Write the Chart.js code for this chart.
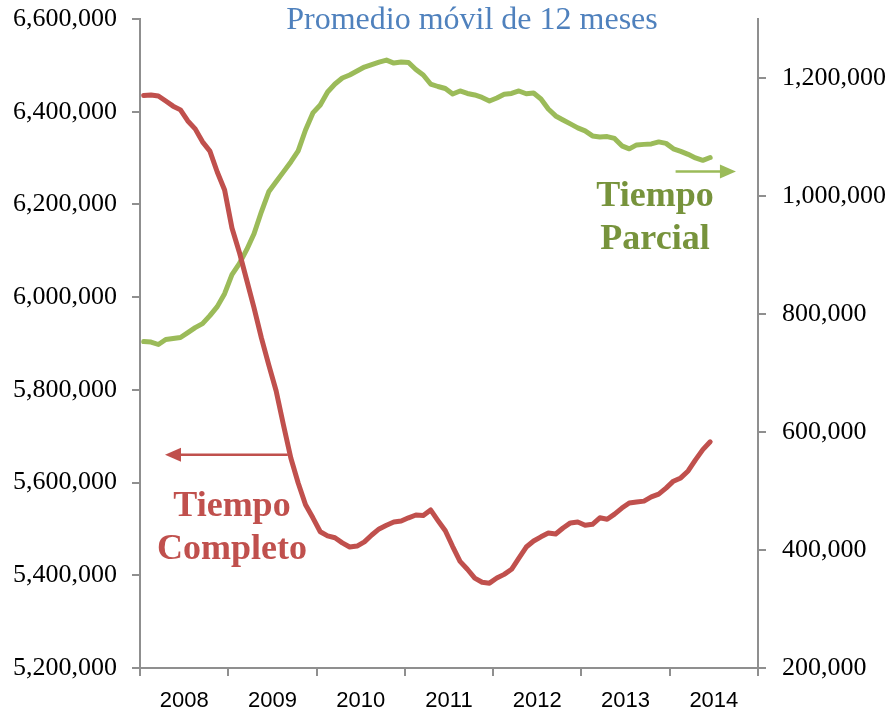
<!DOCTYPE html>
<html>
<head>
<meta charset="utf-8">
<script src="https://cdn.jsdelivr.net/npm/chart.js@4.4.1/dist/chart.umd.min.js"></script>
<style>
  body { margin: 0; background: #fff; }
  #wrap { width: 889px; height: 715px; position: relative; }
</style>
</head>
<body>
<div id="wrap"><canvas id="chart"></canvas></div>
<script>
// monthly 12-month moving averages, Jan 2008 - Jun 2014
const years = ['2008', '2009', '2010', '2011', '2012', '2013', '2014'];
const leftTicks = [5200000, 5400000, 5600000, 5800000, 6000000, 6200000, 6400000, 6600000];
const rightTicks = [200000, 400000, 600000, 800000, 1000000, 1200000];

const tiempoCompleto = [
  6435000, 6436000, 6434000, 6423000, 6412000, 6404000, 6380000, 6363000, 6335000, 6315000,
  6270000, 6231000, 6149000, 6097000, 6037000, 5977000, 5912000, 5854000, 5798000, 5724000,
  5653000, 5599000, 5552000, 5524000, 5494000, 5485000, 5481000, 5470000, 5461000, 5463000,
  5472000, 5487000, 5500000, 5508000, 5515000, 5517000, 5524000, 5530000, 5529000, 5541000,
  5518000, 5496000, 5462000, 5430000, 5413000, 5394000, 5385000, 5383000, 5394000, 5402000,
  5413000, 5437000, 5461000, 5474000, 5483000, 5491000, 5489000, 5502000, 5513000, 5515000,
  5508000, 5510000, 5524000, 5521000, 5532000, 5545000, 5556000, 5558000, 5560000, 5569000,
  5575000, 5588000, 5603000, 5610000, 5625000, 5649000, 5671000, 5688000
];

const tiempoParcial = [
  753300, 752500, 748300, 756700, 758400, 760100, 768500, 776900, 783700, 797300,
  812500, 834500, 866700, 885300, 909000, 936000, 973200, 1007100, 1024000, 1040900,
  1057800, 1076400, 1111900, 1140800, 1154300, 1176300, 1189800, 1200000, 1205100, 1211800,
  1218600, 1222800, 1227000, 1230400, 1225300, 1227000, 1226200, 1214400, 1205100, 1189800,
  1185600, 1182200, 1172900, 1178000, 1173800, 1171200, 1167000, 1161000, 1166100, 1172400,
  1173800, 1178000, 1173300, 1174600, 1164500, 1147500, 1135700, 1128900, 1122200, 1115400,
  1110300, 1101800, 1100100, 1100700, 1097600, 1085000, 1079900, 1086600, 1087500, 1088300,
  1091700, 1089200, 1079900, 1075600, 1070600, 1064600, 1060400, 1065200
];

const axisGray = '#8f8f8f';
const serif = '"Liberation Serif", "Times New Roman", serif';
const sans = '"Liberation Sans", Arial, sans-serif';

const toPoints = arr => arr.map((v, i) => ({ x: i + 0.5, y: v }));
const fmt = v => Math.round(v).toLocaleString('en-US');

// title, arrows and series labels
const notes = {
  id: 'notes',
  afterDraw: (chart) => {
    const { ctx, scales: { x, y, y1 } } = chart;
    ctx.save();

    ctx.font = '32px ' + serif;
    ctx.fillStyle = '#4F81BD';
    ctx.textAlign = 'center';
    ctx.textBaseline = 'alphabetic';
    ctx.fillText('Promedio móvil de 12 meses', 472, 29);

    function arrow(x0, x1, yy, color) {
      const dir = x1 > x0 ? 1 : -1;
      ctx.strokeStyle = color;
      ctx.fillStyle = color;
      ctx.lineWidth = 2.5;
      ctx.beginPath();
      ctx.moveTo(x0, yy);
      ctx.lineTo(x1 - dir * 12, yy);
      ctx.stroke();
      ctx.beginPath();
      ctx.moveTo(x1, yy);
      ctx.lineTo(x1 - dir * 16, yy - 7);
      ctx.lineTo(x1 - dir * 16, yy + 7);
      ctx.closePath();
      ctx.fill();
    }

    // Tiempo Completo (left axis)
    arrow(x.getPixelForValue(20.1), x.getPixelForValue(3.4), y.getPixelForValue(5660000), '#C0504D');
    ctx.font = 'bold 36px ' + serif;
    ctx.fillStyle = '#C0504D';
    ctx.fillText('Tiempo', x.getPixelForValue(12.5), y.getPixelForValue(5528000));
    ctx.fillText('Completo', x.getPixelForValue(12.5), y.getPixelForValue(5435000));

    // Tiempo Parcial (right axis)
    arrow(x.getPixelForValue(72.8), x.getPixelForValue(81), y1.getPixelForValue(1041500), '#9BBB59');
    ctx.fillStyle = '#77933C';
    ctx.fillText('Tiempo', x.getPixelForValue(70), y1.getPixelForValue(983400));
    ctx.fillText('Parcial', x.getPixelForValue(70), y1.getPixelForValue(910700));

    ctx.restore();
  }
};

// keep the plot box fixed: axis widths set by hand, no label padding above/below
const fixWidth = (w) => (scale) => {
  scale.width = w;
  scale.paddingTop = 0;
  scale.paddingBottom = 0;
};

new Chart(document.getElementById('chart'), {
  type: 'line',
  data: {
    datasets: [{
      label: 'Tiempo Completo',
      data: toPoints(tiempoCompleto),
      yAxisID: 'y',
      borderColor: '#C0504D',
      borderWidth: 5,
      pointRadius: 0,
      borderJoinStyle: 'round',
      borderCapStyle: 'round',
    }, {
      label: 'Tiempo Parcial',
      data: toPoints(tiempoParcial),
      yAxisID: 'y1',
      borderColor: '#9BBB59',
      borderWidth: 5,
      pointRadius: 0,
      borderJoinStyle: 'round',
      borderCapStyle: 'round',
    }]
  },
  options: {
    responsive: true,
    maintainAspectRatio: false,
    animation: false,
    layout: { padding: { top: 19, left: 0, right: 0, bottom: 0 } },
    plugins: {
      legend: { display: false },
      title: { display: false },
      tooltip: { enabled: false },
    },
    scales: {
      x: {
        type: 'linear',
        min: 0,
        max: years.length * 12,
        afterBuildTicks: (scale) => {
          const t = [];
          for (let v = 0; v <= years.length * 12; v += 6) t.push({ value: v });
          scale.ticks = t;
        },
        afterFit: (scale) => {
          scale.height = 47;
          scale.paddingLeft = 0;
          scale.paddingRight = 0;
        },
        ticks: {
          autoSkip: false,
          maxRotation: 0,
          padding: 12,
          color: '#000',
          font: { family: sans, size: 22 },
          callback: (v) => (v % 12 === 6 ? years[(v - 6) / 12] : ''),
        },
        grid: {
          drawOnChartArea: false,
          tickLength: 8,
          lineWidth: 2,
          color: (c) => (c.tick && c.tick.value % 12 === 0 ? axisGray : 'rgba(0,0,0,0)'),
        },
        border: { color: axisGray, width: 2 },
      },
      y: {
        position: 'left',
        min: 5200000,
        max: 6600000,
        afterBuildTicks: (scale) => { scale.ticks = leftTicks.map(v => ({ value: v })); },
        afterFit: fixWidth(140),
        ticks: {
          padding: 15,
          color: '#000',
          font: { family: serif, size: 26 },
          callback: (v) => fmt(v),
        },
        grid: { drawOnChartArea: false, tickLength: 8, lineWidth: 2, color: axisGray },
        border: { color: axisGray, width: 2 },
      },
      y1: {
        position: 'right',
        min: 200000,
        max: 1300000,
        afterBuildTicks: (scale) => { scale.ticks = rightTicks.map(v => ({ value: v })); },
        afterFit: fixWidth(131),
        ticks: {
          padding: 16,
          color: '#000',
          font: { family: serif, size: 26 },
          callback: (v) => fmt(v),
        },
        grid: { drawOnChartArea: false, tickLength: 8, lineWidth: 2, color: axisGray },
        border: { color: axisGray, width: 2 },
      }
    }
  },
  plugins: [notes],
});
</script>
</body>
</html>
